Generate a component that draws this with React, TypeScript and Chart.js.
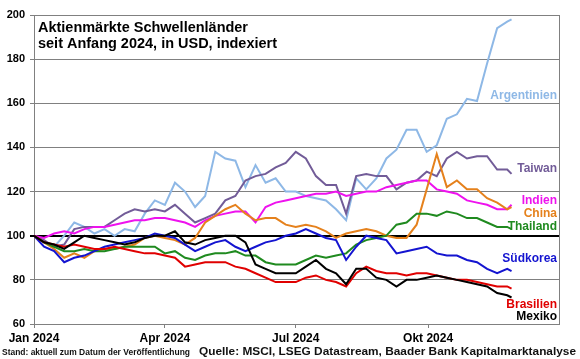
import React, { useEffect, useRef } from "react";
import { Chart, registerables } from "chart.js";

Chart.register(...registerables);

// Days since 1 Jan 2024 (weekly samples)
const days = [0, 7, 14, 21, 28, 35, 42, 49, 56, 63, 70, 77, 84, 91, 98, 105, 112, 119, 126, 133, 140, 147, 154, 161, 168, 175, 182, 189, 196, 203, 210, 217, 224, 231, 238, 245, 252, 259, 266, 273, 280, 287, 294, 301, 308, 315, 322, 329, 332];

const argentinien = [100, 97, 95, 100, 106, 104, 101, 103, 100, 103, 102, 110, 116, 114, 124, 120, 113, 118, 138, 135, 134, 122, 132, 124, 126, 120, 120, 118, 117, 116, 112, 107, 126, 121, 126, 135, 139, 148, 148, 138, 141, 153, 155, 162, 161, 178, 194, 197, 198];
const taiwan = [100, 98, 95, 96, 103, 104, 104, 104, 107, 110, 112, 111, 112, 111, 114, 110, 106, 108, 110, 116, 118, 125, 127, 128, 131, 133, 138, 135, 127, 123, 123, 110, 127, 128, 127, 127, 121, 124, 125, 129, 127, 135, 138, 135, 136, 136, 130, 130, 128];
const indien = [100, 99, 101, 102, 101, 103, 104, 104, 105, 106, 107, 107, 108, 108, 107, 106, 104, 107, 109, 110, 111, 111, 106, 113, 115, 116, 117, 118, 119, 119, 120, 118, 119, 120, 120, 122, 123, 124, 125, 125, 121, 120, 119, 116, 115, 114, 112, 112, 114];
const china = [100, 97, 94, 90, 92, 90, 93, 94, 94, 95, 96, 99, 100, 99, 98, 96, 99, 106, 109, 112, 114, 110, 107, 108, 108, 105, 104, 105, 104, 102, 99, 101, 102, 103, 102, 100, 99, 99, 105, 121, 137, 122, 125, 121, 121, 117, 115, 112, 113];
const thailand = [100, 97, 95, 93, 93, 94, 93, 93, 94, 95, 95, 95, 95, 92, 93, 90, 89, 91, 92, 92, 93, 91, 91, 88, 87, 87, 87, 89, 91, 90, 91, 92, 96, 98, 99, 100, 105, 106, 110, 110, 109, 111, 110, 108, 108, 106, 104, 104, 103];
const suedkorea = [100, 95, 93, 88, 90, 91, 93, 95, 96, 97, 98, 99, 101, 100, 99, 96, 93, 95, 97, 98, 95, 93, 95, 97, 98, 100, 101, 103, 101, 99, 98, 89, 95, 100, 99, 98, 92, 93, 94, 95, 92, 91, 91, 89, 88, 85, 83, 85, 84];
const brasilien = [100, 97, 96, 95, 96, 95, 94, 94, 95, 94, 93, 92, 92, 91, 90, 86, 87, 88, 88, 88, 86, 85, 83, 81, 79, 79, 79, 81, 82, 80, 79, 77, 83, 86, 84, 83, 83, 82, 83, 83, 82, 81, 80, 80, 79, 78, 77, 77, 76];
const mexiko = [100, 97, 96, 94, 97, 100, 99, 98, 97, 96, 97, 99, 100, 100, 102, 97, 96, 98, 99, 100, 100, 97, 87, 85, 83, 83, 83, 86, 89, 85, 83, 78, 85, 85, 81, 80, 77, 80, 80, 81, 82, 81, 80, 79, 78, 77, 74, 73, 72];

const seriesNames = ["Argentinien", "Taiwan", "Indien", "China", "Thailand", "Südkorea", "Brasilien", "Mexiko"];
const seriesValues = [argentinien, taiwan, indien, china, thailand, suedkorea, brasilien, mexiko];
const seriesColors = ["#8EB8E6", "#725C98", "#EE12EE", "#E5811C", "#1F8A1F", "#1414D0", "#E00000", "#000000"];
// label anchor values (index level at which each name is written)
const labelAnchors = [163.6, 130.5, 116, 110, 104.2, 89.5, 68.8, 63.5];

const tickDays = [0, 91, 182, 274];
const tickLabels = ["Jan 2024", "Apr 2024", "Jul 2024", "Okt 2024"];

const titleLines = ["Aktienmärkte Schwellenländer", "seit Anfang 2024, in USD, indexiert"];
const footLeft = "Stand: aktuell zum Datum der Veröffentlichung";
const footRight = "Quelle: MSCI, LSEG Datastream, Baader Bank Kapitalmarktanalyse";

const FONT = "Arial, 'Liberation Sans', sans-serif";

function fillFit(ctx: CanvasRenderingContext2D, text: string, x: number, y: number, width: number) {
  const w = ctx.measureText(text).width;
  ctx.save();
  ctx.translate(x, y);
  ctx.scale(width / w, 1);
  ctx.fillText(text, 0, 0);
  ctx.restore();
}

const overlay = {
  id: "overlay",
  afterDraw(chart: any) {
    const { ctx, chartArea: ca, scales } = chart;
    const y = scales.y;
    ctx.save();
    ctx.strokeStyle = "#808080";
    ctx.lineWidth = 1;
    ctx.beginPath();
    ctx.moveTo(Math.round(ca.right) + 0.5, ca.top);
    ctx.lineTo(Math.round(ca.right) + 0.5, ca.bottom);
    ctx.stroke();

    ctx.fillStyle = "#000";
    ctx.textAlign = "left";
    ctx.textBaseline = "alphabetic";
    ctx.font = `bold 14px ${FONT}`;
    fillFit(ctx, titleLines[0], ca.left + 4, 32, 210);
    fillFit(ctx, titleLines[1], ca.left + 4, 48, 239);

    ctx.font = `bold 12px ${FONT}`;
    ctx.textAlign = "right";
    ctx.textBaseline = "middle";
    seriesNames.forEach((n, i) => {
      ctx.fillStyle = seriesColors[i];
      ctx.fillText(n, ca.right - 2, y.getPixelForValue(labelAnchors[i]));
    });

    ctx.textAlign = "left";
    ctx.textBaseline = "alphabetic";
    ctx.fillStyle = "#111";
    ctx.font = `bold 9px ${FONT}`;
    fillFit(ctx, footLeft, 2, 355, 188);
    ctx.font = `bold 11px ${FONT}`;
    fillFit(ctx, footRight, 199, 355, 377);
    ctx.restore();
  },
};

export default function App() {
  const ref = useRef<HTMLCanvasElement | null>(null);
  useEffect(() => {
    if (!ref.current) return;
    const datasets = seriesNames
      .map((name, i) => ({
        label: name,
        data: days.map((d, k) => ({ x: d, y: seriesValues[i][k] })),
        borderColor: seriesColors[i],
        backgroundColor: seriesColors[i],
        borderWidth: 2,
        pointRadius: 0,
        tension: 0,
        fill: false,
      }))
      .reverse();
    const chart = new Chart(ref.current, {
      type: "line",
      data: { datasets },
      options: {
        responsive: false,
        animation: false,
        devicePixelRatio: 1,
        layout: { padding: { top: 15, right: 21, left: 0, bottom: 0 } },
        plugins: { legend: { display: false }, tooltip: { enabled: false } },
        scales: {
          x: {
            type: "linear",
            min: 0,
            max: 365,
            afterFit: (s: any) => {
              s.height = 35;
            },
            afterBuildTicks: (s: any) => {
              s.ticks = tickDays.map((v) => ({ value: v }));
            },
            grid: { drawOnChartArea: false, drawTicks: true, tickLength: 4, color: "#808080" },
            border: { color: "#808080" },
            ticks: {
              autoSkip: false,
              maxRotation: 0,
              padding: 3,
              color: "#000",
              font: { family: FONT, size: 12, weight: "bold" },
              callback: (v: any) => {
                const i = tickDays.indexOf(Number(v));
                return i >= 0 ? tickLabels[i] : "";
              },
            },
          },
          y: {
            min: 60,
            max: 200,
            afterFit: (s: any) => {
              s.width = 34;
            },
            grid: {
              color: (c: any) => (c.tick && c.tick.value === 100 ? "#000" : "#808080"),
              lineWidth: (c: any) => (c.tick && c.tick.value === 100 ? 2 : 1),
              tickLength: 4,
            },
            border: { color: "#808080" },
            ticks: {
              stepSize: 20,
              padding: 5,
              color: "#000",
              font: { family: FONT, size: 11, weight: "bold" },
            },
          },
        },
      },
      plugins: [overlay],
    } as any);
    return () => chart.destroy();
  }, []);
  return (
    <div style={{ position: "absolute", left: 0, top: 0, width: 580, height: 359, background: "#fff" }}>
      <canvas ref={ref} width={580} height={359} style={{ display: "block" }} />
    </div>
  );
}
